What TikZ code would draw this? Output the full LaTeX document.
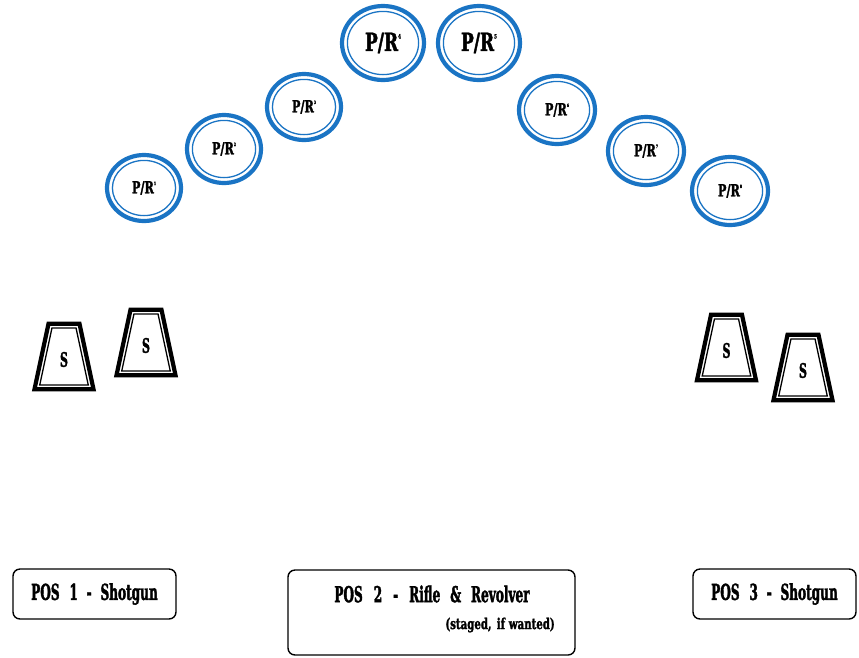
\documentclass[tikz,border=0pt]{standalone}
\usepackage{fontspec}
\newfontfamily\westn[FakeStretch=0.55, BoldFeatures={FakeBold=1.6}]{DejaVu Serif}
\newfontfamily\westw[FakeStretch=0.68, BoldFeatures={FakeBold=1.6}]{DejaVu Serif}
\usetikzlibrary{shapes.geometric}
\definecolor{prblue}{HTML}{1A74C4}
\begin{document}
\begin{tikzpicture}[x=1pt,y=-1pt,
  prout/.style={ellipse, draw=prblue, line width=4.2pt, inner sep=0pt, fill=white},
  prin/.style={draw=prblue, line width=1.3pt},
  conecol/.style={draw=black, line width=4.2pt, line join=miter},
  conein/.style={draw=black, line width=1.3pt},
  slabel/.style={font=\westn\bfseries\fontsize{20}{20}\selectfont, inner sep=0pt},
  posbox/.style={draw=black, line width=1.4pt, rounded corners=7pt, inner sep=0pt},
  postext/.style={font=\westn\bfseries\fontsize{22}{22}\selectfont, inner sep=0pt},
  subtext/.style={font=\westw\bfseries\fontsize{15}{15}\selectfont, inner sep=0pt}]
\useasboundingbox (0,0) rectangle (859,657);

% P/R rings
\foreach \n/\x/\y/\rx/\ry/\fs/\ss in {1/144/188/37/33/16.5/4.5, 2/224/149/37/34/16.5/4.5, 3/304/107/37/33/16.5/4.5,
  4/383/43/41/37/25/6, 5/479/43/41/37/25/6,
  6/557/110/38/34/16.5/4.5, 7/646/151/38/34/16.5/4.5, 8/730/191/38/34/16.5/4.5}
{
  \node[prout, minimum width=2*\rx, minimum height=2*\ry,
        font=\westw\bfseries\fontsize{\fs}{\fs}\selectfont] (pr\n) at (\x,\y)
        {P/R\raisebox{0.5em}{\fontsize{\ss}{\ss}\selectfont\n}};
  \draw[prin] (pr\n.center) ellipse [x radius=\rx-5.4, y radius=\ry-5.4];
}

% shotgun targets (cones)
\foreach \n/\cx/\cy in {1/64/356.5, 2/146/342.5, 3/726.5/347.5, 4/803/367.5}
{
  \draw[conecol] (\cx-15.5,\cy-32.7) -- (\cx+15.5,\cy-32.7) -- (\cx+29.5,\cy+32.7) -- (\cx-29.5,\cy+32.7) -- cycle;
  \draw[conein] (\cx-12.05,\cy-28.45) -- (\cx+12.05,\cy-28.45) -- (\cx+24.25,\cy+28.45) -- (\cx-24.25,\cy+28.45) -- cycle;
  \node[slabel] (s\n) at (\cx,\cy+3) {S};
}

% position boxes
\node[posbox, minimum width=163, minimum height=50] (pos1) at (94.5,594) {};
\node[postext] (pos1t) at (pos1.center) {POS\hspace{0.45em}1\hspace{0.4em}-\hspace{0.4em}Shotgun};

\node[posbox, minimum width=287, minimum height=85] (pos2) at (431.5,612.5) {};
\node[postext] (pos2t) at (432,594) {POS\hspace{0.5em}2\hspace{0.5em}-\hspace{0.5em}Rifle\hspace{0.45em}\&\hspace{0.45em}Revolver};
\node[subtext, anchor=east] (pos2s) at (555,625) {(staged,\hspace{0.35em}if\hspace{0.25em}wanted)};

\node[posbox, minimum width=163, minimum height=50] (pos3) at (774.5,594) {};
\node[postext] (pos3t) at (pos3.center) {POS\hspace{0.45em}3\hspace{0.4em}-\hspace{0.4em}Shotgun};
\end{tikzpicture}
\end{document}
